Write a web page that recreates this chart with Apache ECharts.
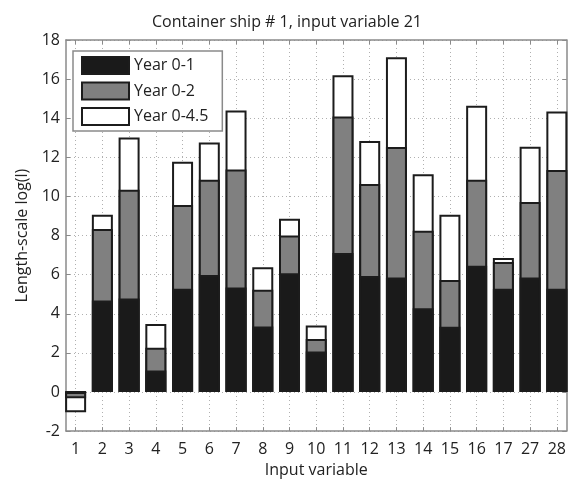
<!DOCTYPE html>
<html>
<head>
<meta charset="utf-8">
<script src="https://cdn.jsdelivr.net/npm/echarts@6/dist/echarts.min.js"></script>
<style>html,body{margin:0;padding:0;background:#fff}#c{width:569px;height:483px}</style>
</head>
<body>
<div id="c"></div>
<script>
const categories = ['1','2','3','4','5','6','7','8','9','10','11','12','13','14','15','16','17','27','28'];
const year01  = [0.00, 4.68, 4.78, 1.10, 5.28, 5.98, 5.34, 3.35, 6.07, 2.07, 7.11, 5.93, 5.85, 4.28, 3.33, 6.45, 5.28, 5.85, 5.28];
const year02  = [-0.32, 8.33, 10.34, 2.26, 9.56, 10.85, 11.38, 5.23, 8.00, 2.71, 14.09, 10.63, 12.53, 8.25, 5.73, 10.85, 6.65, 9.72, 11.35];
const year045 = [-1.03, 9.06, 13.01, 3.48, 11.78, 12.76, 14.40, 6.38, 8.86, 3.40, 16.20, 12.84, 17.12, 11.13, 9.06, 14.64, 6.85, 12.54, 14.35];
const yTicks = [-2, 0, 2, 4, 6, 8, 10, 12, 14, 16, 18];

const positions = categories.map((c, i) => i + 1);
const toPairs = arr => arr.map((v, i) => [positions[i], v]);
const FONT = 'Open Sans';
const axisGray = '#8a8a8a';
const textColor = '#222';

const chart = echarts.init(document.getElementById('c'), null, {renderer: 'canvas'});
const barBase = {
  type: 'bar',
  barWidth: 21,
  barGap: '-100%',
  animation: false
};
const xCommon = {
  type: 'value', min: 0.64, max: 19.36,
  axisLine: {show: true, onZero: false, lineStyle: {color: axisGray, width: 1.5}},
  axisTick: {show: true, inside: true, length: 4, customValues: positions, lineStyle: {color: axisGray}},
  splitLine: {show: false}
};
chart.setOption({
  animation: false,
  textStyle: {fontFamily: FONT},
  title: {
    text: 'Container ship # 1, input variable 21',
    left: 282, top: 9, textAlign: 'center',
    textStyle: {fontFamily: FONT, fontSize: 16, fontWeight: 'normal', color: textColor}
  },
  legend: {
    data: ['Year 0-1', 'Year 0-2', 'Year 0-4.5'],
    icon: 'rect',
    orient: 'vertical', left: 73, top: 51,
    itemWidth: 47, itemHeight: 17, itemGap: 6.5,
    padding: [5, 14, 5, 8],
    backgroundColor: '#fff', borderColor: axisGray, borderWidth: 1.5,
    textStyle: {fontFamily: FONT, fontSize: 16, color: textColor}
  },
  grid: {left: 66, right: 1, top: 40, bottom: 46, containLabel: false},
  xAxis: [
    Object.assign({}, xCommon, {
      position: 'bottom',
      name: 'Input variable', nameLocation: 'middle', nameGap: 29,
      nameTextStyle: {fontFamily: FONT, fontSize: 16, color: textColor},
      axisLabel: {show: true, customValues: positions, margin: 10, fontFamily: FONT, fontSize: 16, color: textColor,
        formatter: v => categories[Math.round(v) - 1]},
      splitLine: {show: true, lineStyle: {color: '#b0b0b0', type: [1, 3], width: 1}}
    }),
    Object.assign({}, xCommon, {position: 'top', axisLabel: {show: false}})
  ],
  yAxis: [
    {
      type: 'value', min: -2, max: 18, interval: 2, position: 'left',
      name: 'Length-scale log(l)', nameLocation: 'middle', nameGap: 22,
      nameTextStyle: {fontFamily: FONT, fontSize: 16, color: textColor},
      axisLine: {show: true, lineStyle: {color: axisGray, width: 1.5}},
      axisTick: {show: true, inside: true, length: 4, lineStyle: {color: axisGray}},
      axisLabel: {fontFamily: FONT, fontSize: 16, color: textColor, margin: 6},
      splitLine: {show: true, lineStyle: {color: '#b0b0b0', type: [1, 3], width: 1}}
    },
    {
      type: 'value', min: -2, max: 18, interval: 2, position: 'right',
      axisLine: {show: true, lineStyle: {color: axisGray, width: 1.5}},
      axisTick: {show: true, inside: true, length: 4, lineStyle: {color: axisGray}},
      axisLabel: {show: false},
      splitLine: {show: false}
    }
  ],
  series: [
    Object.assign({}, barBase, {name: 'Year 0-4.5', data: toPairs(year045), z: 2,
      itemStyle: {color: '#ffffff', borderColor: '#1c1c1c', borderWidth: 2}}),
    Object.assign({}, barBase, {name: 'Year 0-2', data: toPairs(year02), z: 3,
      itemStyle: {color: '#808080', borderColor: '#1c1c1c', borderWidth: 2}}),
    Object.assign({}, barBase, {name: 'Year 0-1', data: toPairs(year01), z: 4,
      itemStyle: {color: '#1a1a1a', borderColor: '#1c1c1c', borderWidth: 2}})
  ]
});
</script>
</body>
</html>
